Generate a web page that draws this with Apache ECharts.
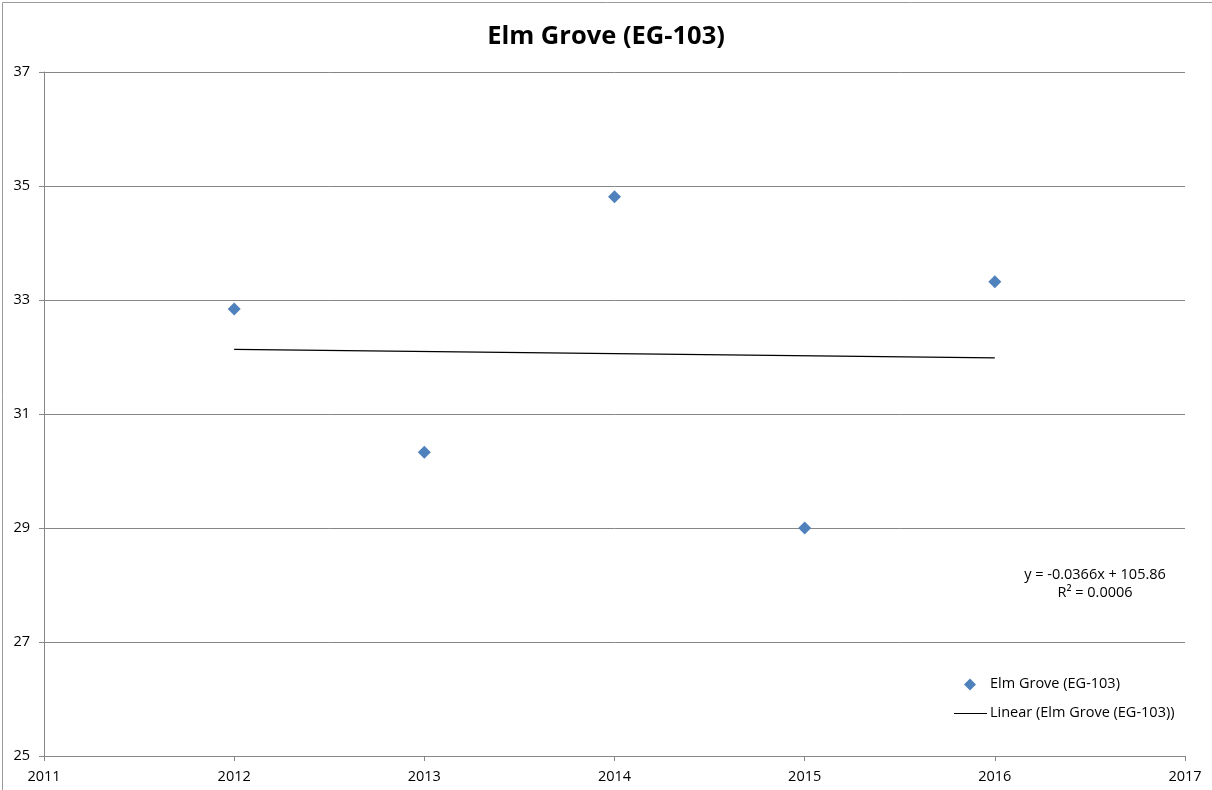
<!DOCTYPE html>
<html>
<head>
<meta charset="utf-8">
<script src="https://cdn.jsdelivr.net/npm/echarts@6/dist/echarts.min.js"></script>
<style>
  html, body { margin: 0; padding: 0; background: #fff; }
  #chart { width: 1212px; height: 790px; }
</style>
</head>
<body>
<div id="chart"></div>
<script>
// Annual values for the Elm Grove station
const years = [2012, 2013, 2014, 2015, 2016];
const values = [32.84, 30.33, 34.81, 29.0, 33.32];
const seriesName = 'Elm Grove (EG-103)';
const trendName = 'Linear (Elm Grove (EG-103))';
const equationLines = ['y = -0.0366x + 105.86', 'R\u00B2 = 0.0006'];

// Least-squares line through the points
function linearFit(xs, ys) {
  const n = xs.length;
  const mx = xs.reduce((a, b) => a + b, 0) / n;
  const my = ys.reduce((a, b) => a + b, 0) / n;
  let sxy = 0, sxx = 0;
  for (let i = 0; i < n; i++) {
    sxy += (xs[i] - mx) * (ys[i] - my);
    sxx += (xs[i] - mx) * (xs[i] - mx);
  }
  const slope = sxy / sxx;
  return { slope, intercept: my - slope * mx };
}
const fit = linearFit(years, values);
const trendData = [years[0], years[years.length - 1]].map(x => [x, fit.slope * x + fit.intercept]);

const font = '"Open Sans", "Liberation Sans", sans-serif';
const textSize = 14.5;
const axisGray = '#868686';

const chart = echarts.init(document.getElementById('chart'), null, { renderer: 'canvas' });
chart.setOption({
  animation: false,
  backgroundColor: '#ffffff',
  title: {
    text: 'Elm Grove (EG-103)',
    left: 'center',
    top: 19,
    textStyle: { fontFamily: font, fontSize: 25.5, fontWeight: 'bold', color: '#000' }
  },
  grid: { left: 44, right: 27, top: 72, bottom: 34 },
  xAxis: {
    type: 'value',
    min: 2011, max: 2017, interval: 1,
    axisLine: { lineStyle: { color: axisGray, width: 1 } },
    axisTick: { show: true, length: 5, lineStyle: { color: axisGray } },
    axisLabel: { fontFamily: font, fontSize: textSize, color: '#000', margin: 13, formatter: v => String(v) },
    splitLine: { show: false }
  },
  yAxis: {
    type: 'value',
    min: 25, max: 37, interval: 2,
    axisLine: { show: true, lineStyle: { color: axisGray, width: 1 } },
    axisTick: { show: true, length: 5, lineStyle: { color: axisGray } },
    axisLabel: { fontFamily: font, fontSize: textSize, color: '#000', margin: 14 },
    splitLine: { show: true, lineStyle: { color: axisGray, width: 1 } }
  },
  series: [
    {
      name: seriesName,
      type: 'scatter',
      symbol: 'diamond',
      symbolSize: 13,
      itemStyle: { color: '#4F81BD', opacity: 1 },
      data: years.map((y, i) => [y, values[i]]),
      z: 3
    },
    {
      name: trendName,
      type: 'line',
      showSymbol: false,
      symbol: 'none',
      lineStyle: { color: '#000', width: 1.3 },
      data: trendData,
      z: 2
    }
  ],
  graphic: [
    {
      type: 'rect',
      shape: { x: 2.5, y: 2.5, width: 1212, height: 792 },
      style: { fill: 'none', stroke: '#9a9a9a', lineWidth: 1 },
      silent: true
    },
    {
      type: 'text',
      x: 1095, y: 575,
      style: { text: equationLines[0], font: textSize + 'px ' + font, fill: '#000', align: 'center', verticalAlign: 'middle' }
    },
    {
      type: 'text',
      x: 1095, y: 593,
      style: { text: equationLines[1], font: textSize + 'px ' + font, fill: '#000', align: 'center', verticalAlign: 'middle' }
    },
    // Legend entries
    {
      type: 'polygon',
      shape: { points: [[970, 678.5], [976, 684.5], [970, 690.5], [964, 684.5]] },
      style: { fill: '#4F81BD' }
    },
    {
      type: 'text',
      x: 990, y: 684,
      style: { text: seriesName, font: textSize + 'px ' + font, fill: '#000', verticalAlign: 'middle' }
    },
    {
      type: 'line',
      shape: { x1: 954, y1: 713.5, x2: 987, y2: 713.5 },
      style: { stroke: '#000', lineWidth: 1.2 }
    },
    {
      type: 'text',
      x: 990, y: 713,
      style: { text: trendName, font: textSize + 'px ' + font, fill: '#000', verticalAlign: 'middle' }
    }
  ]
});
</script>
</body>
</html>
